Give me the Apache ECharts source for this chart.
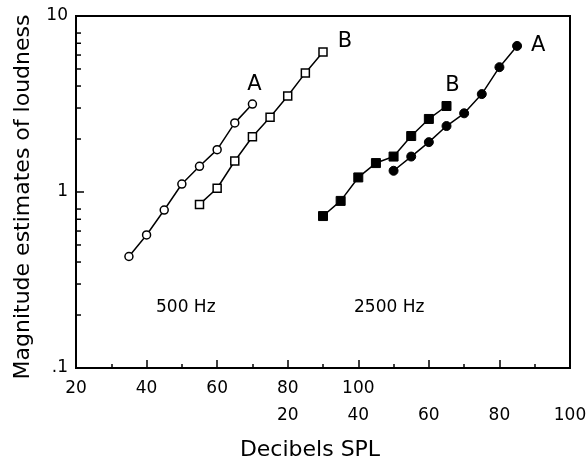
<!DOCTYPE html>
<html>
<head>
<meta charset="utf-8">
<script src="https://cdn.jsdelivr.net/npm/echarts@6/dist/echarts.min.js"></script>
<style>html,body{margin:0;padding:0;background:#fff;}#c{width:586px;height:459px;}</style>
</head>
<body>
<div id="c"></div>
<script>
// 500 Hz (dB on upper label row)
const db500A = [35, 40, 45, 50, 55, 60, 65, 70];
const val500A = [0.43, 0.57, 0.79, 1.11, 1.40, 1.74, 2.47, 3.16];
const db500B = [55, 60, 65, 70, 75, 80, 85, 90];
const val500B = [0.85, 1.05, 1.50, 2.06, 2.66, 3.51, 4.75, 6.25];
// 2500 Hz (dB on lower label row)
const db2500B = [30, 35, 40, 45, 50, 55, 60, 65];
const val2500B = [0.73, 0.89, 1.21, 1.46, 1.59, 2.08, 2.60, 3.08];
const db2500A = [50, 55, 60, 65, 70, 75, 80, 85];
const val2500A = [1.32, 1.59, 1.92, 2.37, 2.80, 3.60, 5.12, 6.76];
// axis ticks
const yMajorTicks = [0.1, 1, 10];
const yMinorTicks = [0.2, 0.3, 0.4, 0.5, 0.6, 0.7, 0.8, 2, 3, 4, 5, 6, 7, 8];
const xRow1Labels = [20, 40, 60, 80, 100];
const xRow2Labels = [20, 40, 60, 80, 100];

const FONT = 'DejaVu Sans';
const pairs = (xs, ys) => xs.map((x, i) => [x, ys[i]]);

function endLabel(text, offset) {
  return {
    show: true,
    formatter: (p) => p.dataIndex === 7 ? text : '',
    position: 'inside',
    offset: offset,
    fontFamily: FONT, fontSize: 21, color: '#000'
  };
}

const chart = echarts.init(document.getElementById('c'), null, {renderer: 'canvas'});
chart.setOption({
  animation: false,
  backgroundColor: '#fff',
  grid: {left: 76, right: 16, top: 16, bottom: 91, containLabel: false, outerBoundsMode: 'none',
    show: true, borderColor: '#000', borderWidth: 2, backgroundColor: 'transparent'},
  xAxis: [{
    type: 'value', min: 20, max: 160, interval: 20, position: 'bottom',
    axisLine: {show: true, onZero: false, lineStyle: {color: '#000', width: 2}},
    axisTick: {show: true, inside: true, length: 8, lineStyle: {color: '#000', width: 1.5}},
    minorTick: {show: true, splitNumber: 2, length: 4, lineStyle: {color: '#000', width: 1.5}},
    splitLine: {show: false},
    axisLabel: {margin: 12, fontFamily: FONT, fontSize: 17, color: '#000',
      formatter: (v) => xRow1Labels.indexOf(v) >= 0 ? String(v) : ''}
  }, {
    type: 'value', min: -40, max: 100, interval: 20, position: 'bottom', offset: 27,
    axisLine: {show: false, onZero: false}, axisTick: {show: false}, splitLine: {show: false},
    axisLabel: {margin: 12, fontFamily: FONT, fontSize: 17, color: '#000',
      formatter: (v) => (v >= 20 && xRow2Labels.indexOf(v) >= 0) ? String(v) : ''},
    name: 'Decibels SPL', nameLocation: 'middle', nameGap: 44,
    nameTextStyle: {fontFamily: FONT, fontSize: 22, color: '#000', padding: [0, 26, 0, 0]}
  }],
  yAxis: [{
    type: 'log', logBase: 10, min: 0.1, max: 10,
    axisLine: {show: true, onZero: false, lineStyle: {color: '#000', width: 2}},
    axisTick: {show: true, inside: true, length: 8, lineStyle: {color: '#000', width: 1.5}},
    splitLine: {show: false},
    axisLabel: {margin: 8, fontFamily: FONT, fontSize: 17, color: '#000', padding: [6, 0, 0, 0],
      formatter: (v) => {
        const r = Math.round(v * 10) / 10;
        if (yMajorTicks.indexOf(r) < 0) return '';
        return r === 0.1 ? '.1' : String(r);
      }},
    name: 'Magnitude estimates of loudness', nameLocation: 'middle', nameGap: 42,
    nameTextStyle: {fontFamily: FONT, fontSize: 22, color: '#000', padding: [0, 10, 0, 0]}
  }],
  graphic: [
    {type: 'text', left: 156, top: 299, style: {text: '500 Hz', fontFamily: FONT, fontSize: 17, fill: '#000'}},
    {type: 'text', left: 354, top: 299, style: {text: '2500 Hz', fontFamily: FONT, fontSize: 17, fill: '#000'}}
  ],
  series: [
    {
      type: 'custom', xAxisIndex: 0, yAxisIndex: 0, silent: true, z: 5, clip: false,
      data: yMinorTicks.map(v => [20, v]),
      renderItem: (params, api) => {
        const p = api.coord([api.value(0), api.value(1)]);
        return {type: 'line', shape: {x1: p[0], y1: p[1], x2: p[0] + 5, y2: p[1]}, style: {stroke: '#000', lineWidth: 1.5}};
      }
    },
    {
      type: 'line', xAxisIndex: 0, data: pairs(db500A, val500A),
      symbol: 'circle', symbolSize: 8, lineStyle: {color: '#000', width: 1.5},
      itemStyle: {color: '#fff', borderColor: '#000', borderWidth: 1.5},
      label: endLabel('A', [2, -20])
    },
    {
      type: 'line', xAxisIndex: 0, data: pairs(db500B, val500B),
      symbol: 'rect', symbolSize: 8, lineStyle: {color: '#000', width: 1.5},
      itemStyle: {color: '#fff', borderColor: '#000', borderWidth: 1.5},
      label: endLabel('B', [22, -10])
    },
    {
      type: 'line', xAxisIndex: 1, data: pairs(db2500B, val2500B),
      symbol: 'rect', symbolSize: 9, lineStyle: {color: '#000', width: 1.5},
      itemStyle: {color: '#000', borderColor: '#000', borderWidth: 1},
      label: endLabel('B', [6, -20])
    },
    {
      type: 'line', xAxisIndex: 1, data: pairs(db2500A, val2500A),
      symbol: 'circle', symbolSize: 9, lineStyle: {color: '#000', width: 1.5},
      itemStyle: {color: '#000', borderColor: '#000', borderWidth: 1},
      label: endLabel('A', [21, 0])
    }
  ]
});
</script>
</body>
</html>
